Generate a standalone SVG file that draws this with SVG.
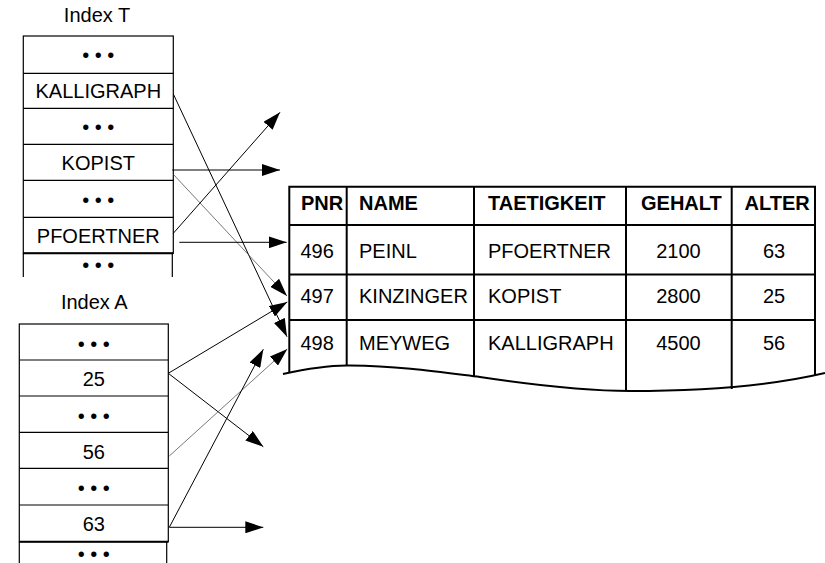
<svg xmlns="http://www.w3.org/2000/svg" width="825" height="563" viewBox="0 0 825 563">
<style>
text{font-family:"Liberation Sans",Arial,sans-serif;font-size:20px;fill:#000}
.c{text-anchor:middle}
.b{font-weight:bold}
.box{fill:none;stroke:#000;stroke-width:1.2}
.thk{stroke:#000;stroke-width:2;fill:none}
.tb{stroke:#000;stroke-width:2;fill:none}
.ln{stroke:#000;stroke-width:1;fill:none}
.lg{stroke:#555;stroke-width:0.8;fill:none}
</style>
<defs>
<marker id="ah" markerUnits="userSpaceOnUse" markerWidth="18" markerHeight="12" refX="18" refY="6" orient="auto">
<path d="M0,0 L18,6 L0,12 z" fill="#000"/>
</marker>
</defs>
<rect width="825" height="563" fill="#fff"/>

<g id="indexT">
<text class="c" x="97" y="21.5">Index T</text>
<rect class="box" x="23.3" y="36" width="150" height="217.3"/>
<path class="box" d="M23.3,73.3H173.3M23.3,108.3H173.3M23.3,144.3H173.3M23.3,180.3H173.3M23.3,217.3H173.3"/>
<path class="thk" d="M23.3,253.3H173.3"/>
<path class="box" d="M23.3,253.3V277M172.3,253.3V277"/>
<text class="c" x="98.3" y="62">• • •</text>
<text class="c" x="98.3" y="98">KALLIGRAPH</text>
<text class="c" x="98.3" y="134">• • •</text>
<text class="c" x="98.3" y="169.5">KOPIST</text>
<text class="c" x="98.3" y="206.5">• • •</text>
<text class="c" x="98.3" y="242.5">PFOERTNER</text>
<text class="c" x="98.3" y="272">• • •</text>
</g>

<g id="indexA">
<text class="c" x="94.3" y="309.3">Index A</text>
<rect class="box" x="19.3" y="324" width="149" height="217.7"/>
<path class="box" d="M19.3,360H168.3M19.3,396H168.3M19.3,432.3H168.3M19.3,468.3H168.3"/>
<path class="box" stroke-width="1.6" d="M19.3,505H168.3"/>
<path class="thk" d="M19.3,541.7H168.3"/>
<path class="box" d="M19.3,541.7V563M166.7,541.7V563"/>
<text class="c" x="93.8" y="351">• • •</text>
<text class="c" x="93.8" y="386">25</text>
<text class="c" x="93.8" y="423">• • •</text>
<text class="c" x="93.8" y="459">56</text>
<text class="c" x="93.8" y="494.5">• • •</text>
<text class="c" x="93.8" y="530.5">63</text>
<text class="c" x="93.8" y="560.5">• • •</text>
</g>

<g id="table">
<path class="tb" d="M289.3,373V186.7H815V376"/>
<path class="tb" d="M289.3,225H815M289.3,274.5H815M289.3,320H815"/>
<path class="tb" d="M346.7,186.7V366M474,186.7V376M626,186.7V391M731.7,186.7V389"/>
<path class="tb" d="M283,374 C310,368 330,365 350,365.5 C400,366 440,372 480,377 C540,386 590,391 630,391 C700,391 770,386 825,373"/>
<text class="b" x="301" y="210">PNR</text>
<text class="b" x="359" y="210">NAME</text>
<text class="b" x="488" y="210">TAETIGKEIT</text>
<text class="b" x="641" y="210">GEHALT</text>
<text class="b" x="744.5" y="210">ALTER</text>
<text x="300.5" y="257.5">496</text>
<text x="359" y="257.5">PEINL</text>
<text x="488" y="257.5">PFOERTNER</text>
<text class="c" x="678.5" y="257.5">2100</text>
<text class="c" x="774" y="257.5">63</text>
<text x="300.5" y="303">497</text>
<text x="359" y="303">KINZINGER</text>
<text x="488" y="303">KOPIST</text>
<text class="c" x="678.5" y="303">2800</text>
<text class="c" x="774" y="303">25</text>
<text x="300.5" y="350">498</text>
<text x="359" y="350">MEYWEG</text>
<text x="488" y="350">KALLIGRAPH</text>
<text class="c" x="678.5" y="350">4500</text>
<text class="c" x="774" y="350">56</text>
</g>

<g id="connectors">
<line class="ln" x1="173.3" y1="94" x2="287" y2="336.7" marker-end="url(#ah)"/>
<line class="ln" x1="172.3" y1="170" x2="280" y2="170" marker-end="url(#ah)"/>
<line class="lg" x1="173.3" y1="174.3" x2="287" y2="296" marker-end="url(#ah)"/>
<line class="ln" x1="173.3" y1="233.3" x2="280" y2="112.3" marker-end="url(#ah)"/>
<line class="ln" x1="179.3" y1="242.3" x2="286.7" y2="242.3" marker-end="url(#ah)"/>
<line class="ln" x1="168.3" y1="373.3" x2="287.3" y2="302" marker-end="url(#ah)"/>
<line class="ln" x1="168.3" y1="373.3" x2="263.3" y2="446.7" marker-end="url(#ah)"/>
<line class="lg" x1="169.3" y1="456" x2="287.3" y2="349" marker-end="url(#ah)"/>
<line class="ln" x1="169.3" y1="527.3" x2="263.3" y2="349.3" marker-end="url(#ah)"/>
<line class="ln" x1="169.3" y1="527.3" x2="263.3" y2="527.3" marker-end="url(#ah)"/>
</g>
</svg>
